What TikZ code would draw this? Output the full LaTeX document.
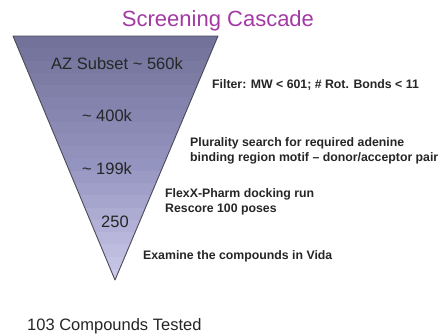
\documentclass[tikz,border=0pt]{standalone}
\usepackage{fontspec}
\setmainfont{Liberation Sans}
\definecolor{titlemag}{HTML}{A33AA3}
\definecolor{funneltop}{HTML}{72729A}
\definecolor{funnelmid}{HTML}{9494C0}
\definecolor{funnelbot}{HTML}{D0CDEC}
\definecolor{funneledge}{HTML}{4A4A58}
\newcommand{\tld}{\symbol{126}}
\tikzset{
  stage/.style={inner sep=0pt, font=\fontsize{16.5}{19}\selectfont, text=black!85},
  step note/.style={inner sep=0pt, anchor=west, align=left,
    font=\fontsize{12.3}{14.5}\selectfont\bfseries, text=black!85},
}
\begin{document}
\begin{tikzpicture}[x=1pt,y=-1pt]
\useasboundingbox (0,0) rectangle (444,335);
\fill[white] (0,0) rectangle (444,335);

% funnel: banded fill from slate at the top to pale lavender at the tip
\coordinate (tl) at (13,36);
\coordinate (tr) at (218,36);
\coordinate (tip) at (115,280);
\begin{scope}
  \clip (tl) -- (tr) -- (tip) -- cycle;
  \foreach \i in {0,...,19}{
    \pgfmathsetmacro{\ya}{36+\i*12.25}
    \pgfmathsetmacro{\yb}{\ya+12.6}
    \pgfmathtruncatemacro{\p}{\i<10 ? 100-\i*10 : 0}
    \pgfmathtruncatemacro{\q}{\i<10 ? 0 : (\i-10)*10}
    \ifnum\i<10
      \fill[funneltop!\p!funnelmid] (0,\ya) rectangle (230,\yb);
    \else
      \fill[funnelbot!\q!funnelmid] (0,\ya) rectangle (230,\yb);
    \fi
  }
\end{scope}
\draw[funneledge, line width=0.9pt, line join=round] (tl) -- (tr) -- (tip) -- cycle;

% title
\node[inner sep=0pt, text=titlemag, font=\fontsize{22}{26}\selectfont] (title) at (218,21) {Screening Cascade};

% counts inside the funnel
\node[stage] (s560) at (117,64) {AZ Subset \tld{} 560k};
\node[stage] (s400) at (107,116) {\tld{} 400k};
\node[stage] (s199) at (107,169) {\tld{} 199k};
\node[stage] (s250) at (115,222) {250};

% filtering steps
\node[step note] (filter) at (212,85) {Filter: MW < 601; \# Rot. Bonds < 11};
\node[step note] (plural) at (190,151) {Plurality search for required adenine\\binding region motif – donor/acceptor pair};
\node[step note] (flexx) at (165,202) {FlexX-Pharm docking run\\Rescore 100 poses};
\node[step note] (vida) at (143,256) {Examine the compounds in Vida};

% result
\node[inner sep=0pt, anchor=west, font=\fontsize{16.5}{19}\selectfont, text=black!85] (tested) at (27,326) {103 Compounds Tested};
\end{tikzpicture}
\end{document}
